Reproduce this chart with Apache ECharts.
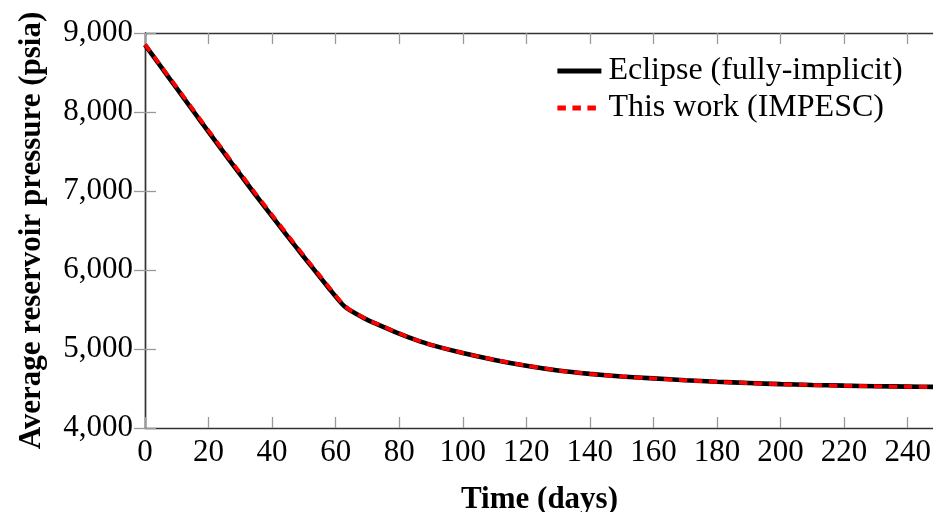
<!DOCTYPE html>
<html>
<head>
<meta charset="utf-8">
<script src="https://cdn.jsdelivr.net/npm/echarts@6/dist/echarts.min.js"></script>
<style>html,body{margin:0;padding:0;background:#fff}#c{width:933px;height:512px}</style>
</head>
<body>
<div id="c"></div>
<script>
var eclipseDays = [0,5,10,15,20,25,30,35,40,45,50,55,58,60,62,63.5,66,70,75,80,85,90,100,110,120,130,140,150,160,170,180,190,200,210,220,230,240,250];
var eclipsePressure = [8850,8574,8298,8022,7748,7476,7206,6940,6678,6420,6165,5913,5763,5665,5570,5518,5455,5368,5280,5195,5118,5052,4948,4862,4788,4728,4685,4652,4628,4605,4585,4570,4555,4545,4536,4529,4524,4519];
var impescDays = [0,5,10,15,20,25,30,35,40,45,50,55,58,60,62,64,67,70,75,80,85,90,100,110,120,130,140,150,160,170,180,190,200,210,220,230,240,250];
var impescPressure = [8855,8585,8312,8038,7765,7494,7225,6958,6696,6438,6182,5930,5778,5678,5582,5508,5438,5372,5284,5198,5120,5054,4950,4863,4789,4729,4685,4652,4627,4604,4584,4569,4554,4544,4535,4528,4522,4517];
var yTicks = [4000,5000,6000,7000,8000,9000];
var xTicks = [0,20,40,60,80,100,120,140,160,180,200,220,240];

function pairs(xs, ys){ return xs.map(function(x,i){ return [x, ys[i]]; }); }
var serif = 'Liberation Serif';
var chart = echarts.init(document.getElementById('c'), null, {renderer:'canvas'});
var axisLine = {show:true, lineStyle:{color:'#333', width:1.4}};
var tick = {show:true, inside:true, length:11, lineStyle:{color:'#9a9a9a', width:1.3}};
chart.setOption({
  animation:false,
  backgroundColor:'#fff',
  grid:{left:145, top:33, right:-1, bottom:84, containLabel:false, outerBoundsMode:'none'},
  legend:{
    orient:'vertical', left:555, top:55, padding:0, itemWidth:44, itemHeight:14, itemGap:5,
    itemStyle:{opacity:0}, lineStyle:{width:4.8},
    textStyle:{fontFamily:serif, fontSize:32, color:'#000', lineHeight:32, padding:[0,0,0,2]},
    data:['Eclipse (fully-implicit)','This work (IMPESC)']
  },
  xAxis:[{
    type:'value', min:0, max:248.3, interval:20,
    name:'Time (days)', nameLocation:'middle', nameGap:56,
    nameTextStyle:{fontFamily:serif, fontWeight:'bold', fontSize:31, color:'#000'},
    axisLine:axisLine, axisTick:tick, splitLine:{show:false},
    axisLabel:{fontFamily:serif, fontSize:31, color:'#000', margin:9,
      formatter:function(v){ return xTicks.indexOf(v)>=0 ? String(v) : ''; }}
  },{
    type:'value', position:'top', min:0, max:248.3, interval:20,
    axisLine:axisLine, axisTick:tick, axisLabel:{show:false}, splitLine:{show:false}
  }],
  yAxis:[{
    type:'value', min:4000, max:9000, interval:1000,
    name:'Average reservoir pressure (psia)', nameLocation:'middle', nameGap:98,
    nameTextStyle:{fontFamily:serif, fontWeight:'bold', fontSize:31, color:'#000'},
    axisLine:axisLine, axisTick:tick, splitLine:{show:false},
    axisLabel:{fontFamily:serif, fontSize:31, color:'#000', margin:12,
      formatter:function(v){ return yTicks.indexOf(v)>=0 ? v.toLocaleString('en-US') : ''; }}
  },{
    type:'value', position:'right', min:4000, max:9000, interval:1000,
    axisLine:axisLine, axisTick:tick, axisLabel:{show:false}, splitLine:{show:false}
  }],
  series:[{
    name:'Eclipse (fully-implicit)', type:'line', data:pairs(eclipseDays, eclipsePressure),
    showSymbol:false, symbol:'none', smooth:0.25, color:'#000',
    lineStyle:{color:'#000', width:4.6}, z:2, clip:true
  },{
    name:'This work (IMPESC)', type:'line', data:pairs(impescDays, impescPressure),
    showSymbol:false, symbol:'none', smooth:0.25, color:'#ff0000',
    lineStyle:{color:'#ff0000', width:3.8, type:[8.5,6.5]}, z:3, clip:true
  }]
});
</script>
</body>
</html>
